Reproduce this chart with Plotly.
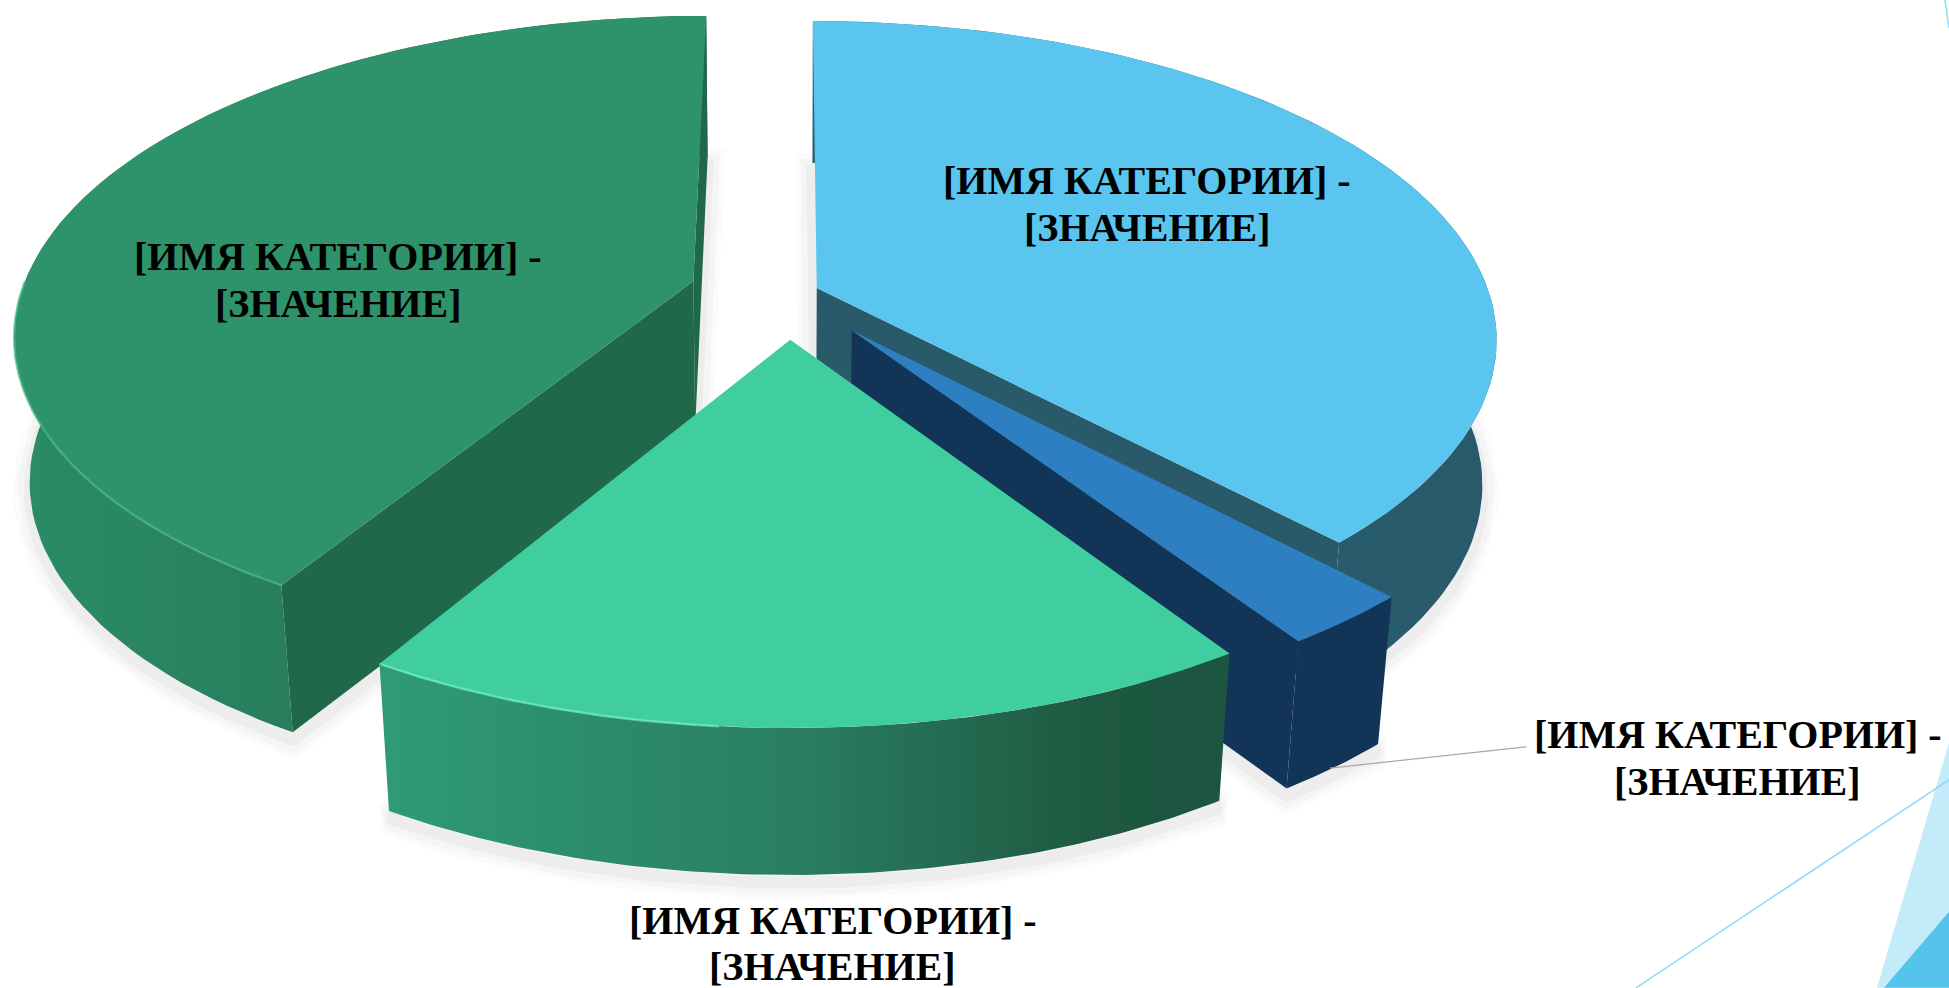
import numpy as np
import plotly.graph_objects as go

# ---- data ----
categories = ["[ИМЯ КАТЕГОРИИ] -", "[ИМЯ КАТЕГОРИИ] -", "[ИМЯ КАТЕГОРИИ] -", "[ИМЯ КАТЕГОРИИ] -"]
value_labels = ["[ЗНАЧЕНИЕ]", "[ЗНАЧЕНИЕ]", "[ЗНАЧЕНИЕ]", "[ЗНАЧЕНИЕ]"]
values = [38.0, 2.7, 17.9, 41.4]
explode = [0.046, 0.15, 0.146, 0.147]

# ---- styles ----
top_colors = ["#5AC6EF", "#2E7FC2", "#40CDA0", "#2E926B"]
cut_colors = ["#285A6A", "#123456", "#1D5840", "#20684A"]
wall_scales = [
    [[0, "#2A6072"], [1, "#285A6A"]],
    [[0, "#123456"], [1, "#123456"]],
    [[0, "#2F9B75"], [0.5, "#2A7D60"], [0.85, "#1D5840"], [1, "#1C5540"]],
    [[0, "#2B8C67"], [0.5, "#277A5B"], [1, "#236E50"]],
]
show_start = [False, False, False, True]
show_end = [True, True, False, True]
draw_order = [3, 0, 1, 2]
label_xy = [(923, 145, 183), (1398, 591, 629), (670, 741, 778), (272, 206, 244)]
FONT = dict(family="Liberation Serif", size=40, color="#000000")

# projection of the tilted pie on the 1568x795 picture grid
S = 1949 / 1568
CX, CY, RX, RY, K, M, T = 634, 236, 541, 250, 0.158, 0.02, 118


def proj(X, Y, z=0.0):
    w = 1 + K * Y + M * z
    return CX + RX * X / w, CY - RY * Y / w + T * z / w ** 0.4


def arc(i, a1, a2, z, n=90):
    th = np.radians(np.linspace(a1, a2, n))
    ex, ey = explode[i] * np.sin(np.radians(mid[i])), explode[i] * np.cos(np.radians(mid[i]))
    return proj(ex + np.sin(th), ey + np.cos(th), z)


def apex(i, z):
    ex, ey = explode[i] * np.sin(np.radians(mid[i])), explode[i] * np.cos(np.radians(mid[i]))
    return proj(ex, ey, z)


def poly(fig, xs, ys, color=None, scale=None):
    kw = dict(fill="toself", mode="lines", line=dict(width=0), hoverinfo="skip", showlegend=False)
    if scale:
        kw["fillgradient"] = dict(type="horizontal", colorscale=scale)
    else:
        kw["fillcolor"] = color
    fig.add_trace(go.Scatter(x=list(xs), y=list(ys), **kw))


total = sum(values)
edges = np.concatenate([[0], np.cumsum(values)]) / total * 360
mid = (edges[:-1] + edges[1:]) / 2

fig = go.Figure()

# soft shadow
for i in range(4):
    bx, by = arc(i, edges[i], edges[i + 1], 1)
    ax, ay = apex(i, 1)
    for width, alpha in [(34, 0.016), (24, 0.022), (12, 0.03)]:
        fig.add_trace(go.Scatter(
            x=[ax, *bx, ax], y=[ay + 6, *(by + 6), ay + 6], mode="lines",
            line=dict(width=width, color=f"rgba(0,0,0,{alpha})"),
            hoverinfo="skip", showlegend=False))

# slices
for i in draw_order:
    a1, a2 = edges[i], edges[i + 1]
    tx, ty = arc(i, a1, a2, 0)
    bx, by = arc(i, a1, a2, 1)
    px0, py0 = apex(i, 0)
    px1, py1 = apex(i, 1)
    poly(fig, [*tx, *bx[::-1]], [*ty, *by[::-1]], scale=wall_scales[i])
    if show_start[i]:
        poly(fig, [px0, tx[0], bx[0], px1], [py0, ty[0], by[0], py1], color=cut_colors[i])
    if show_end[i]:
        poly(fig, [px0, tx[-1], bx[-1], px1], [py0, ty[-1], by[-1], py1], color=cut_colors[i])
    poly(fig, [px0, *tx], [py0, *ty], color=top_colors[i])

# rim highlights
hx, hy = arc(2, edges[3], 185, 0)
fig.add_trace(go.Scatter(x=hx, y=hy, mode="lines", line=dict(width=2.5, color="rgba(110,240,197,0.7)"),
                         hoverinfo="skip", showlegend=False))
hx, hy = arc(3, edges[3], 270, 0)
fig.add_trace(go.Scatter(x=hx, y=hy, mode="lines", line=dict(width=2.5, color="rgba(70,185,140,0.65)"),
                         hoverinfo="skip", showlegend=False))

# leader line
fig.add_trace(go.Scatter(x=[1070, 1228], y=[618, 601], mode="lines",
                         line=dict(width=1.2, color="#A6A6A6"), hoverinfo="skip", showlegend=False))

# slide decoration
deco = [
    dict(type="path", path=f"M {1949/S} {743/S} L {1877/S} {988/S} L {1949/S} {988/S} Z",
         fillcolor="#C3EBF9", line=dict(width=0)),
    dict(type="path", path=f"M {1949/S} {912/S} L {1884/S} {988/S} L {1949/S} {988/S} Z",
         fillcolor="#55C4EC", line=dict(width=0)),
    dict(type="line", x0=1636 / S, y0=988 / S, x1=1949 / S, y1=780 / S, line=dict(width=1.5, color="#8ADAF4")),
    dict(type="line", x0=1945 / S, y0=0, x1=1949 / S, y1=28 / S, line=dict(width=1.5, color="#8ADAF4")),
]

annotations = []
for i in range(4):
    x, y1, y2 = label_xy[i]
    annotations.append(dict(x=x, y=y1, text=f"<b>{categories[i]}</b>", showarrow=False, font=FONT,
                            xanchor="center", yanchor="middle"))
    annotations.append(dict(x=x, y=y2, text=f"<b>{value_labels[i]}</b>", showarrow=False, font=FONT,
                            xanchor="center", yanchor="middle"))

fig.update_layout(
    width=1949, height=988, margin=dict(l=0, r=0, t=0, b=0),
    paper_bgcolor="#FFFFFF", plot_bgcolor="#FFFFFF", showlegend=False,
    xaxis=dict(range=[0, 1568], visible=False, fixedrange=True),
    yaxis=dict(range=[795, 0], visible=False, fixedrange=True),
    shapes=deco, annotations=annotations,
)
fig.write_html("out.html", config=dict(displayModeBar=False),
               post_script="document.body.style.margin='0';document.documentElement.style.overflow='hidden';")
